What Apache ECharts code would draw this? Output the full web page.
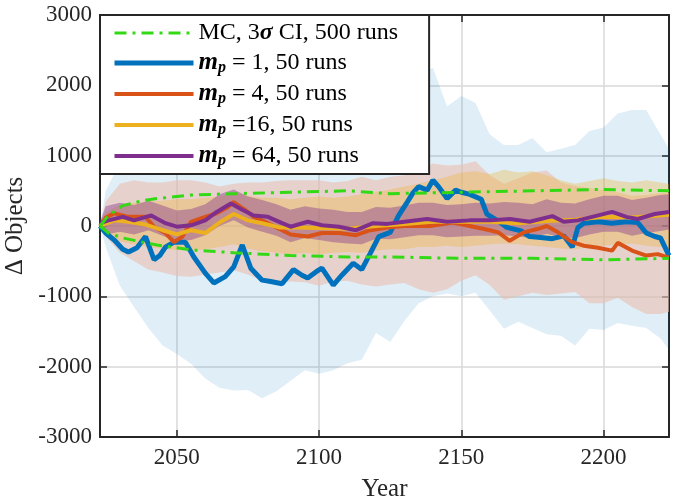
<!DOCTYPE html>
<html>
<head>
<meta charset="utf-8">
<script src="https://cdn.jsdelivr.net/npm/echarts@6.0.0/dist/echarts.min.js"></script>
<style>
  html, body { margin: 0; padding: 0; background: #fff; }
  #chart { width: 673px; height: 504px; }
</style>
</head>
<body>
<div id="chart"></div>
<script>
// mean curves
var mp1Years = [2023,2025,2028,2031,2033,2036,2039,2042,2044,2046,2049,2053,2056,2060,2063,2067,2070,2073,2076,2080,2083,2087,2091,2094,2096,2099,2101,2105,2108,2112,2115,2118,2121,2125,2128,2131,2133,2135,2138,2140,2142,2145,2148,2150,2153,2157,2159,2163,2166,2171,2174,2177,2182,2186,2189,2191,2193,2198,2203,2208,2212,2215,2218,2220,2223];
var mp1Values = [0,-100,-200,-330,-370,-310,-150,-480,-420,-300,-230,-230,-440,-670,-810,-720,-580,-270,-600,-770,-790,-820,-620,-700,-740,-650,-600,-840,-700,-530,-620,-390,-150,-90,150,340,470,560,510,650,560,390,510,480,450,380,170,70,-20,-70,-150,-160,-180,-140,-300,-20,40,60,40,60,50,-100,-150,-170,-420];

var mp4Years = [2023,2025,2028,2033,2039,2042,2046,2049,2052,2055,2060,2064,2068,2070,2074,2077,2082,2087,2090,2096,2101,2107,2113,2118,2124,2130,2139,2147,2153,2160,2163,2167,2172,2177,2180,2184,2189,2193,2198,2203,2205,2210,2215,2219,2223];
var mp4Values = [0,120,180,130,130,-10,-100,-230,-150,60,130,180,270,340,230,130,40,-60,-120,-150,-100,-100,-130,-60,-20,0,0,50,0,-60,-90,-210,-90,-40,0,-90,-230,-280,-310,-350,-240,-350,-420,-400,-450];

var mp16Years = [2023,2028,2033,2039,2045,2050,2055,2060,2065,2070,2075,2080,2086,2092,2100,2110,2120,2130,2140,2150,2160,2170,2180,2190,2200,2210,2223];
var mp16Values = [0,80,60,20,-60,-120,-60,-100,50,170,80,40,-20,-20,-30,-40,0,30,60,60,60,40,70,90,130,120,160];

var mp64Years = [2023,2026,2031,2035,2041,2046,2050,2055,2060,2064,2069,2073,2077,2082,2087,2090,2096,2101,2107,2113,2119,2124,2130,2138,2145,2153,2160,2167,2174,2182,2186,2191,2196,2203,2208,2212,2218,2223];
var mp64Values = [40,80,130,80,150,40,-10,10,80,200,320,230,150,130,40,-10,60,10,-10,-60,40,30,60,100,60,80,80,100,60,140,60,80,130,200,130,100,170,200];

// Monte Carlo 3 sigma envelope
var mcYears = [2023,2026,2031,2038,2043,2055,2070,2090,2110,2125,2150,2175,2200,2223];
var mcUpper = [0,150,290,360,390,440,460,480,500,460,480,500,520,500];
var mcLower = [0,-100,-170,-230,-270,-340,-380,-420,-440,-440,-460,-460,-480,-460];

// shaded spread of each batch
var bandYears = [2023,2025,2030,2035,2040,2045,2050,2055,2060,2065,2070,2075,2080,2085,2090,2095,2100,2105,2110,2115,2120,2125,2130,2135,2140,2145,2150,2155,2160,2165,2170,2175,2180,2185,2190,2195,2200,2205,2210,2215,2220,2223];
var mp1Lo = [0,-300,-850,-1150,-1450,-1700,-1820,-1960,-2170,-2300,-2340,-2330,-2450,-2350,-2200,-2050,-2100,-2050,-1950,-1900,-1520,-1650,-1350,-1100,-1000,-960,-1000,-950,-1200,-1460,-1360,-1450,-1540,-1560,-1700,-1460,-1480,-1380,-1420,-1450,-1600,-1760];
var mp1Hi = [0,500,900,1100,1300,1400,1500,1550,1600,1700,1800,1850,1900,1900,1900,1950,2000,2050,2100,2150,2200,2250,2300,2150,2250,1700,1850,1750,1300,1150,1150,1250,1050,1100,1150,1350,1400,1600,1650,1650,1300,1100];
var mp4Lo = [0,-150,-380,-500,-620,-660,-710,-720,-690,-660,-630,-690,-780,-810,-790,-800,-850,-790,-780,-830,-860,-830,-810,-900,-950,-900,-780,-700,-840,-1050,-1000,-950,-980,-960,-940,-1100,-1100,-1020,-1150,-1250,-1250,-1220];
var mp4Hi = [0,350,600,650,620,620,650,650,620,560,600,620,620,640,650,650,650,620,640,700,650,700,720,800,890,860,870,920,720,600,680,760,790,620,570,540,510,480,430,440,470,470];
var mp16Lo = [0,-150,-220,-260,-300,-320,-340,-350,-330,-300,-260,-320,-360,-380,-400,-380,-400,-380,-370,-380,-350,-330,-330,-300,-300,-280,-300,-280,-260,-250,-260,-280,-300,-320,-330,-300,-280,-260,-250,-280,-300,-300];
var mp16Hi = [0,200,300,330,350,360,380,380,400,420,480,430,400,400,380,400,420,400,420,450,480,520,560,600,650,700,760,780,740,800,760,780,720,650,600,640,680,640,620,650,620,600];
var mp64Lo = [20,-120,-80,-120,-60,-140,-220,-200,-130,0,80,-20,-80,-140,-230,-170,-200,-230,-250,-260,-180,-190,-160,-130,-130,-160,-150,-140,-140,-130,-150,-170,-110,-160,-170,-120,-80,-80,-140,-100,-70,-50];
var mp64Hi = [60,280,330,300,360,290,220,240,310,450,520,420,370,310,230,280,250,230,200,200,270,260,290,330,330,300,310,330,320,340,330,310,380,330,320,380,430,430,370,400,440,450];

var yTicks = [-3000, -2000, -1000, 0, 1000, 2000, 3000];

var FONT = 'Liberation Serif';
var INK = '#262626';
var MC_NAME = 'MC, 3\u03c3 CI, 500 runs';

function pairs(xs, ys) {
  return xs.map(function (x, i) { return [x, ys[i]]; });
}

function bandSeries(name, lo, hi, color) {
  return {
    type: 'custom',
    name: name,
    silent: true,
    clip: true,
    encode: { x: 0, y: [1, 2] },
    data: bandYears.map(function (yr, i) { return [yr, lo[i], hi[i]]; }),
    renderItem: function (params, api) {
      if (params.dataIndex !== 0) return null;
      var pts = [];
      for (var i = 0; i < bandYears.length; i++) pts.push(api.coord([bandYears[i], hi[i]]));
      for (var j = bandYears.length - 1; j >= 0; j--) pts.push(api.coord([bandYears[j], lo[j]]));
      return { type: 'polygon', shape: { points: pts }, style: { fill: color } };
    }
  };
}

function lineSeries(name, xs, ys, color, width, dash) {
  return {
    type: 'line',
    name: name,
    data: pairs(xs, ys),
    symbol: 'none',
    silent: true,
    clip: true,
    itemStyle: { color: color },
    lineStyle: { color: color, width: width, type: dash || 'solid' }
  };
}

function plainNumber(v) { return String(v); }

var tickStyle = { show: true, inside: true, length: 7, lineStyle: { color: INK, width: 1.5 } };
var boxLine = { show: true, onZero: false, lineStyle: { color: INK, width: 2 } };
var gridLine = { show: true, lineStyle: { color: '#d9d9d9', width: 1.5 } };

var option = {
  animation: false,
  backgroundColor: '#fff',
  grid: { left: 100, right: 4, top: 15, bottom: 67, containLabel: false, outerBoundsMode: 'none' },
  xAxis: [{
    type: 'value', min: 2023, max: 2223, splitNumber: 4, position: 'bottom',
    axisLine: boxLine, axisTick: tickStyle, splitLine: gridLine,
    axisLabel: { color: INK, fontFamily: FONT, fontSize: 23, margin: 9, showMinLabel: false, showMaxLabel: false, formatter: plainNumber },
    name: 'Year', nameLocation: 'middle', nameGap: 40,
    nameTextStyle: { color: INK, fontFamily: FONT, fontSize: 25 }
  }, {
    type: 'value', min: 2023, max: 2223, splitNumber: 4, position: 'top',
    axisLine: boxLine, axisTick: tickStyle, splitLine: { show: false }, axisLabel: { show: false }
  }],
  yAxis: [{
    type: 'value', min: yTicks[0], max: yTicks[yTicks.length - 1], interval: 1000, position: 'left',
    axisLine: boxLine, axisTick: tickStyle, splitLine: gridLine,
    axisLabel: { color: INK, fontFamily: FONT, fontSize: 23, margin: 8, formatter: plainNumber },
    name: '\u0394 Objects', nameLocation: 'middle', nameGap: 67,
    nameTextStyle: { color: INK, fontFamily: FONT, fontSize: 25 }
  }, {
    type: 'value', min: yTicks[0], max: yTicks[yTicks.length - 1], interval: 1000, position: 'right',
    axisLine: boxLine, axisTick: tickStyle, splitLine: { show: false }, axisLabel: { show: false }
  }],
  legend: {
    data: [MC_NAME, 'm_p = 1, 50 runs', 'm_p = 4, 50 runs', 'm_p =16, 50 runs', 'm_p = 64, 50 runs'],
    orient: 'vertical',
    left: 100, top: 15,
    padding: [6, 31, 5, 12],
    itemWidth: 79, itemHeight: 12, itemGap: 5.5,
    itemStyle: { opacity: 0 },
    lineStyle: { width: 'inherit' },
    backgroundColor: '#fff', borderColor: INK, borderWidth: 2, borderRadius: 0,
    selectedMode: false,
    textStyle: {
      color: '#000', fontFamily: FONT, fontSize: 24,
      rich: {
        t: { fontFamily: FONT, fontSize: 24, lineHeight: 26, color: '#000' },
        s: { fontFamily: FONT, fontSize: 24, lineHeight: 26, fontStyle: 'italic', fontWeight: 'bold', color: '#000' },
        m: { fontFamily: FONT, fontSize: 25, lineHeight: 26, fontStyle: 'italic', fontWeight: 'bold', color: '#000' },
        p: { fontFamily: FONT, fontSize: 16, lineHeight: 12, fontStyle: 'italic', fontWeight: 'bold', verticalAlign: 'bottom', color: '#000' }
      }
    },
    formatter: function (name) {
      if (name === MC_NAME) return '{t|MC, 3}{s|\u03c3}{t| CI, 500 runs}';
      return '{m|m}{p|p}{t|' + name.slice(3) + '}';
    }
  },
  series: [
    bandSeries('band1', mp1Lo, mp1Hi, 'rgba(0,114,189,0.12)'),
    bandSeries('band4', mp4Lo, mp4Hi, 'rgba(235,190,175,0.6)'),
    lineSeries('m_p = 1, 50 runs', mp1Years, mp1Values, '#0072BD', 5),
    bandSeries('band16', mp16Lo, mp16Hi, 'rgba(237,177,32,0.3)'),
    lineSeries('m_p = 4, 50 runs', mp4Years, mp4Values, '#D95319', 4),
    lineSeries('m_p =16, 50 runs', mp16Years, mp16Values, '#EDB120', 4),
    bandSeries('band64', mp64Lo, mp64Hi, 'rgba(126,47,142,0.4)'),
    lineSeries('m_p = 64, 50 runs', mp64Years, mp64Values, '#7E2F8E', 4),
    lineSeries(MC_NAME, mcYears, mcUpper, '#33d914', 3, [12, 6, 3, 6]),
    lineSeries(MC_NAME, mcYears, mcLower, '#33d914', 3, [12, 6, 3, 6])
  ]
};

var myChart = echarts.init(document.getElementById('chart'));
myChart.setOption(option);
</script>
</body>
</html>
